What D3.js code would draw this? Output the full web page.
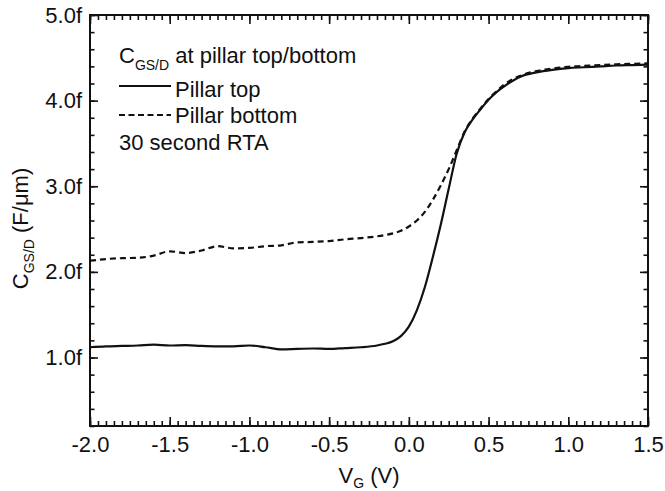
<!DOCTYPE html>
<html><head><meta charset="utf-8">
<script src="https://cdn.jsdelivr.net/npm/d3@7"></script>
<style>body{margin:0;background:#fff}svg{display:block}text{font-family:"Liberation Sans",Arial,sans-serif;fill:#111}</style>
</head><body><svg id="c" width="665" height="491"></svg>
<script>
const voltage = [-2.0,-1.9,-1.8,-1.7,-1.6,-1.5,-1.4,-1.3,-1.2,-1.1,-1.0,-0.9,-0.8,-0.7,-0.6,-0.5,-0.4,-0.3,-0.2,-0.15,-0.1,-0.05,0.0,0.05,0.1,0.15,0.2,0.25,0.3,0.35,0.4,0.45,0.5,0.55,0.6,0.7,0.8,0.9,1.0,1.1,1.2,1.3,1.4,1.5];
const pillarTop = [1.12,1.13,1.135,1.14,1.15,1.14,1.145,1.135,1.13,1.13,1.14,1.12,1.095,1.10,1.105,1.10,1.11,1.12,1.14,1.16,1.19,1.25,1.36,1.55,1.82,2.17,2.55,2.97,3.38,3.63,3.78,3.90,4.01,4.10,4.17,4.28,4.33,4.36,4.38,4.39,4.40,4.41,4.415,4.42];
const pillarBottom = [2.13,2.15,2.16,2.165,2.19,2.24,2.22,2.25,2.30,2.275,2.28,2.30,2.31,2.345,2.35,2.36,2.38,2.395,2.415,2.43,2.45,2.48,2.53,2.60,2.70,2.84,3.01,3.20,3.42,3.64,3.79,3.91,4.02,4.11,4.19,4.29,4.345,4.375,4.395,4.405,4.415,4.425,4.43,4.435];
const xTicks = [-2.0,-1.5,-1.0,-0.5,0.0,0.5,1.0,1.5];
const yTicks = [1.0,2.0,3.0,4.0,5.0];
const yTickLabels = ["1.0f","2.0f","3.0f","4.0f","5.0f"];
const legendLines = ["Pillar top","Pillar bottom","30 second RTA"];

const svg = d3.select("#c");
const L=90,R=648,T=15,B=426;
const x = d3.scaleLinear().domain([-2,1.5]).range([L,R]);
const y = d3.scaleLinear().domain([0.2,5.0]).range([B,T]);
const FS=22;

const xMinor = d3.range(-2.0,1.5001,0.05).map(v=>+v.toFixed(2));
const yMinor = d3.range(0.2,5.0001,0.2).map(v=>+v.toFixed(1));

function styleAxis(g){g.select(".domain").remove();g.selectAll("line").attr("stroke","#111").attr("stroke-width",1.6);g.selectAll("text").style("font-size",FS+"px").style("font-family","'Liberation Sans',Arial,sans-serif").attr("fill","#111");}

// minor ticks
svg.append("g").attr("transform",`translate(0,${B})`).call(d3.axisBottom(x).tickValues(xMinor).tickSize(-5).tickFormat("")).call(styleAxis);
svg.append("g").attr("transform",`translate(0,${T})`).call(d3.axisTop(x).tickValues(xMinor).tickSize(-5).tickFormat("")).call(styleAxis);
svg.append("g").attr("transform",`translate(${L},0)`).call(d3.axisLeft(y).tickValues(yMinor).tickSize(-4.5).tickFormat("")).call(styleAxis);
svg.append("g").attr("transform",`translate(${R},0)`).call(d3.axisRight(y).tickValues(yMinor).tickSize(-4.5).tickFormat("")).call(styleAxis);
// major ticks
svg.append("g").attr("transform",`translate(0,${B})`).call(d3.axisBottom(x).tickValues(xTicks).tickSize(-9).tickPadding(10).tickFormat(d=>d3.format(".1f")(d).replace("−","-"))).call(styleAxis);
svg.append("g").attr("transform",`translate(0,${T})`).call(d3.axisTop(x).tickValues(xTicks).tickSize(-9).tickFormat("")).call(styleAxis);
svg.append("g").attr("transform",`translate(${L},0)`).call(d3.axisLeft(y).tickValues(yTicks).tickSize(-8).tickPadding(8).tickFormat((d,i)=>yTickLabels[i])).call(styleAxis);
svg.append("g").attr("transform",`translate(${R},0)`).call(d3.axisRight(y).tickValues(yTicks).tickSize(-8).tickFormat("")).call(styleAxis);

svg.append("rect").attr("x",L).attr("y",T).attr("width",R-L).attr("height",B-T).attr("fill","none").attr("stroke","#111").attr("stroke-width",2);

const line = d3.line().x((d,i)=>x(voltage[i])).y(d=>y(d)).curve(d3.curveMonotoneX);
svg.append("path").datum(pillarBottom).attr("d",line).attr("fill","none").attr("stroke","#111").attr("stroke-width",2.2).attr("stroke-dasharray","6,4");
svg.append("path").datum(pillarTop).attr("d",line).attr("fill","none").attr("stroke","#111").attr("stroke-width",2.2);

// legend
const t1 = svg.append("text").attr("x",119).attr("y",63).style("font-size",FS+"px");
t1.append("tspan").text("C");
t1.append("tspan").text("GS/D").style("font-size","14px").attr("dy",7);
t1.append("tspan").text(" at pillar top/bottom").attr("dy",-7);
svg.append("line").attr("x1",119).attr("x2",171).attr("y1",86).attr("y2",86).attr("stroke","#111").attr("stroke-width",2);
svg.append("line").attr("x1",119).attr("x2",171).attr("y1",115).attr("y2",115).attr("stroke","#111").attr("stroke-width",2).attr("stroke-dasharray","6,3.5");
svg.append("text").attr("x",175).attr("y",97).style("font-size",FS+"px").text(legendLines[0]);
svg.append("text").attr("x",175).attr("y",123).style("font-size",FS+"px").text(legendLines[1]);
svg.append("text").attr("x",119).attr("y",150).style("font-size",FS+"px").text(legendLines[2]);

// axis labels
const xl = svg.append("text").attr("x",(L+R)/2).attr("y",483).attr("text-anchor","middle").style("font-size",FS+"px");
xl.append("tspan").text("V");
xl.append("tspan").text("G").style("font-size","14px").attr("dy",5);
xl.append("tspan").text(" (V)").attr("dy",-5);
const yl = svg.append("text").attr("transform",`translate(28,${(T+B)/2+8}) rotate(-90)`).attr("text-anchor","middle").style("font-size",FS+"px");
yl.append("tspan").text("C");
yl.append("tspan").text("GS/D").style("font-size","14px").attr("dy",6);
yl.append("tspan").text(" (F/μm)").attr("dy",-6);
</script></body></html>
